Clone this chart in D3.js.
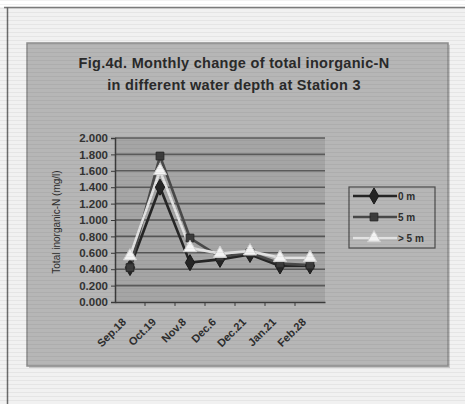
<!DOCTYPE html>
<html>
<head>
<meta charset="utf-8">
<script src="https://cdn.jsdelivr.net/npm/d3@7"></script>
<style>
  html, body { margin: 0; padding: 0; background: #f4f4f4; }
  svg { display: block; }
  text { font-family: "Liberation Sans", Arial, sans-serif; }
</style>
</head>
<body>
<svg id="chart" width="465" height="404"></svg>
<script>
// Sampling dates and total inorganic-N (mg/l) per water depth
const categories = ["Sep.18", "Oct.19", "Nov.8", "Dec.6", "Dec.21", "Jan.21", "Feb.28"];
const depth0m  = [0.42, 1.40, 0.48, 0.52, 0.58, 0.44, 0.44];
const depth5m  = [0.42, 1.78, 0.78, 0.55, 0.60, 0.47, 0.45];
const depthGt5 = [0.56, 1.60, 0.66, 0.59, 0.62, 0.54, 0.54];
const seriesNames = ["0 m", "5 m", "> 5 m"];
const yTicks = [0, 0.2, 0.4, 0.6, 0.8, 1.0, 1.2, 1.4, 1.6, 1.8, 2.0];
const titleLines = ["Fig.4d. Monthly change of total inorganic-N", "in different water depth at Station 3"];
const yLabel = "Total inorganic-N (mg/l)";

const series = [
  { name: seriesNames[0], values: depth0m,  line: "#262626", fill: "#262626", stroke: "#1a1a1a", symbol: d3.symbolDiamond, size: 75 },
  { name: seriesNames[1], values: depth5m,  line: "#4a4a4a", fill: "#3c3c3c", stroke: "#2a2a2a", symbol: d3.symbolSquare,  size: 60 },
  { name: seriesNames[2], values: depthGt5, line: "#e2e2e2", fill: "#f4f4f4", stroke: "#d0d0d0", symbol: d3.symbolTriangle, size: 75 }
];

const svg = d3.select("#chart");

// Faint horizontal scan texture
const defs = svg.append("defs");
const pat = defs.append("pattern").attr("id", "scan")
  .attr("patternUnits", "userSpaceOnUse").attr("width", 6).attr("height", 4);
pat.append("rect").attr("width", 6).attr("height", 1).attr("fill", "#000").attr("opacity", 0.05);

// Page frame
svg.append("rect").attr("x", 0).attr("y", 0).attr("width", 465).attr("height", 404).attr("fill", "#f1f1f1");
svg.append("rect").attr("x", 0).attr("y", 0).attr("width", 465).attr("height", 7).attr("fill", "#ffffff");
svg.append("line").attr("x1", 4).attr("x2", 465).attr("y1", 7.5).attr("y2", 7.5).attr("stroke", "#7a7a7a").attr("stroke-width", 1.5);
svg.append("line").attr("x1", 7.5).attr("x2", 7.5).attr("y1", 7).attr("y2", 404).attr("stroke", "#6a6a6a").attr("stroke-width", 1.5);

// Chart area
const chartBox = { x: 27, y: 43, w: 421, h: 323 };
svg.append("rect")
  .attr("x", chartBox.x + 2).attr("y", chartBox.y + 2)
  .attr("width", chartBox.w).attr("height", chartBox.h)
  .attr("fill", "#c8c8c8");
svg.append("rect")
  .attr("x", chartBox.x).attr("y", chartBox.y)
  .attr("width", chartBox.w).attr("height", chartBox.h)
  .attr("fill", "#b6b6b6").attr("stroke", "#8c8c8c").attr("stroke-width", 1.5);

// Title
svg.append("g").selectAll("text").data(titleLines).join("text")
  .attr("x", 234).attr("y", (d, i) => 68 + i * 22)
  .attr("text-anchor", "middle")
  .attr("font-size", 14.5).attr("font-weight", "bold")
  .attr("letter-spacing", 0.3)
  .attr("fill", "#2a2a2a")
  .text(d => d);

// Plot area and scales
const plot = { left: 115, right: 325, top: 138, bottom: 302 };
const x = d3.scaleBand().domain(categories).range([plot.left, plot.right]);
const y = d3.scaleLinear().domain([0, 2]).range([plot.bottom, plot.top]);

svg.append("rect")
  .attr("x", plot.left).attr("y", plot.top)
  .attr("width", plot.right - plot.left).attr("height", plot.bottom - plot.top)
  .attr("fill", "#a5a5a5");

// Gridlines
svg.append("g").selectAll("line").data(yTicks.slice(1)).join("line")
  .attr("x1", plot.left).attr("x2", plot.right)
  .attr("y1", d => y(d)).attr("y2", d => y(d))
  .attr("stroke", "#5a5a5a").attr("stroke-width", 1.6);

// Y axis
const yAxis = svg.append("g")
  .attr("transform", `translate(${plot.left},0)`)
  .call(d3.axisLeft(y).tickValues(yTicks).tickFormat(d3.format(".3f")).tickSize(4).tickPadding(3));
yAxis.select(".domain").attr("stroke", "#3a3a3a").attr("stroke-width", 1.5);
yAxis.selectAll(".tick line").attr("stroke", "#3a3a3a");
yAxis.selectAll("text")
  .attr("font-size", 11.5).attr("font-weight", "bold").attr("fill", "#333");

// X axis
const xAxis = svg.append("g")
  .attr("transform", `translate(0,${plot.bottom})`)
  .call(d3.axisBottom(x).tickSize(0).tickFormat(""));
xAxis.select(".domain").attr("stroke", "#3a3a3a").attr("stroke-width", 1.5);
// Tick marks between categories
svg.append("g").selectAll("line").data(categories.slice(1)).join("line")
  .attr("x1", d => x(d)).attr("x2", d => x(d))
  .attr("y1", plot.bottom).attr("y2", plot.bottom + 4)
  .attr("stroke", "#3a3a3a");
// Rotated category labels
svg.append("g").selectAll("text").data(categories).join("text")
  .attr("transform", d => `translate(${x(d) + x.bandwidth() / 2 - 6},${plot.bottom + 18}) rotate(-45)`)
  .attr("text-anchor", "end").attr("dy", "0.35em")
  .attr("font-size", 11).attr("font-weight", "bold").attr("fill", "#2e2e2e")
  .text(d => d);

// Y axis title
svg.append("text")
  .attr("transform", `translate(60,${(plot.top + plot.bottom) / 2 + 2}) rotate(-90)`)
  .attr("text-anchor", "middle")
  .attr("font-size", 10).attr("fill", "#2e2e2e")
  .text(yLabel);

// Series lines and markers
const cx = (i) => x(categories[i]) + x.bandwidth() / 2;
const line = d3.line().x((d, i) => cx(i)).y(d => y(d));

series.forEach(s => {
  svg.append("path")
    .datum(s.values)
    .attr("fill", "none")
    .attr("stroke", s.line).attr("stroke-width", 2.6)
    .attr("d", line);
});
series.forEach(s => {
  svg.append("g").selectAll("path").data(s.values).join("path")
    .attr("transform", (d, i) => `translate(${cx(i)},${y(d)})`)
    .attr("d", d3.symbol().type(s.symbol).size(s.size))
    .attr("fill", s.fill).attr("stroke", s.stroke).attr("stroke-width", 1);
});

// Legend
const legend = svg.append("g").attr("transform", "translate(349,187)");
legend.append("rect")
  .attr("width", 86).attr("height", 61)
  .attr("fill", "#b6b6b6").attr("stroke", "#4a4a4a").attr("stroke-width", 1.2);
const items = legend.selectAll("g").data(series).join("g")
  .attr("transform", (d, i) => `translate(0,${9 + i * 21})`);
items.append("line")
  .attr("x1", 4).attr("x2", 48).attr("y1", 0).attr("y2", 0)
  .attr("stroke", d => d.line).attr("stroke-width", 2.6);
items.append("path")
  .attr("transform", "translate(25,0)")
  .attr("d", d => d3.symbol().type(d.symbol).size(d.size)())
  .attr("fill", d => d.fill).attr("stroke", d => d.stroke);
items.append("text")
  .attr("x", 49).attr("y", 0).attr("dy", "0.35em")
  .attr("font-size", 10).attr("font-weight", "bold").attr("fill", "#2e2e2e")
  .text(d => d.name);

// Scan texture over the page
svg.append("rect").attr("width", 465).attr("height", 404).attr("fill", "url(#scan)").attr("pointer-events", "none");
</script>
</body>
</html>
